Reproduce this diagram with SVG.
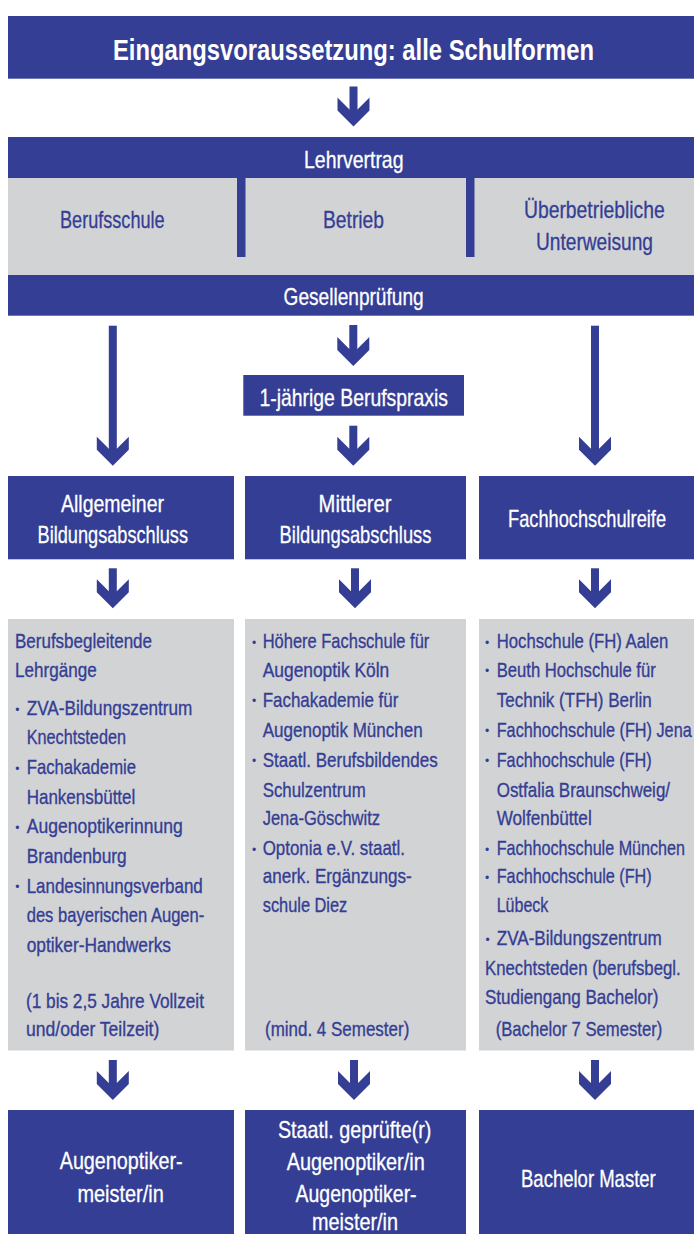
<svg xmlns="http://www.w3.org/2000/svg" width="694" height="1234" viewBox="0 0 694 1234">
<style>
.b{fill:#343e94}
.g{fill:#d2d3d5}
text{font-family:"Liberation Sans",Arial,sans-serif}
.w{fill:#ffffff;stroke:#ffffff;stroke-width:0.3px;font-size:24px}
.t{fill:#343e94;stroke:#343e94;stroke-width:0.3px;font-size:24px}
.l{fill:#343e94;stroke:#343e94;stroke-width:0.35px;font-size:21px}
.d{fill:#343e94;font-size:12px;text-anchor:middle}
.h{fill:#ffffff;font-size:30px;font-weight:bold}
</style>
<defs>
<path id="head" d="M-4,-17 L-16,-29 L-16,-16 L0,0 L16,-16 L16,-29 L4,-17 Z"/>
</defs>
<rect width="694" height="1234" fill="#ffffff"/>

<g id="connectors" fill="#343e94">
<g transform="translate(353.5,126.5)"><rect x="-4" y="-40" width="8" height="25"/><use href="#head"/></g>
<g transform="translate(353.3,366)"><rect x="-4" y="-41" width="8" height="26"/><use href="#head"/></g>
<g transform="translate(353.3,465.7)"><rect x="-4" y="-40" width="8" height="25"/><use href="#head"/></g>
<g transform="translate(112.8,465.7)"><rect x="-4" y="-140" width="8" height="125"/><use href="#head"/></g>
<g transform="translate(595,465.7)"><rect x="-4" y="-140" width="8" height="125"/><use href="#head"/></g>
<g transform="translate(112.8,608.3)"><rect x="-4" y="-40" width="8" height="25"/><use href="#head"/></g>
<g transform="translate(355,608.3)"><rect x="-4" y="-40" width="8" height="25"/><use href="#head"/></g>
<g transform="translate(595,608.3)"><rect x="-4" y="-40" width="8" height="25"/><use href="#head"/></g>
<g transform="translate(112.8,1100)"><rect x="-4" y="-40" width="8" height="25"/><use href="#head"/></g>
<g transform="translate(354,1100)"><rect x="-4" y="-40" width="8" height="25"/><use href="#head"/></g>
<g transform="translate(595,1100)"><rect x="-4" y="-40" width="8" height="25"/><use href="#head"/></g>
</g>

<g id="eingang">
<rect class="b" x="8" y="16" width="686" height="62.7"/>
<text class="h" transform="translate(113 60) scale(.75 1)" textLength="641.3" lengthAdjust="spacingAndGlyphs">Eingangsvoraussetzung: alle Schulformen</text>
</g>

<g id="lehrvertrag">
<rect class="b" x="8" y="137" width="686" height="41"/>
<text class="w" transform="translate(304 168) scale(.75 1)" textLength="132.7" lengthAdjust="spacingAndGlyphs">Lehrvertrag</text>
</g>

<g id="ausbildung">
<rect class="g" x="8" y="178" width="686" height="97"/>
<rect class="b" x="237" y="177" width="8.5" height="80"/>
<rect class="b" x="466" y="177" width="8.5" height="80"/>
<text class="t" transform="translate(60 228) scale(.75 1)" textLength="139.5" lengthAdjust="spacingAndGlyphs">Berufsschule</text>
<text class="t" transform="translate(323 228) scale(.75 1)" textLength="81.3" lengthAdjust="spacingAndGlyphs">Betrieb</text>
<text class="t" transform="translate(524 218.3) scale(.75 1)" textLength="187.5" lengthAdjust="spacingAndGlyphs">Überbetriebliche</text>
<text class="t" transform="translate(536 250) scale(.75 1)" textLength="156" lengthAdjust="spacingAndGlyphs">Unterweisung</text>
</g>

<g id="gesellenpruefung">
<rect class="b" x="8" y="275" width="686" height="40.7"/>
<text class="w" transform="translate(283.6 305) scale(.75 1)" textLength="186.7" lengthAdjust="spacingAndGlyphs">Gesellenprüfung</text>
</g>

<g id="berufspraxis">
<rect class="b" x="243.3" y="375" width="220.7" height="40.7"/>
<text class="w" transform="translate(259.5 406) scale(.75 1)" textLength="251.3" lengthAdjust="spacingAndGlyphs">1-jährige Berufspraxis</text>
</g>

<g id="allgemeiner">
<rect class="b" x="8" y="476" width="226" height="83.3"/>
<text class="w" transform="translate(61 511.7) scale(.75 1)" textLength="137.3" lengthAdjust="spacingAndGlyphs">Allgemeiner</text>
<text class="w" transform="translate(37.6 542.7) scale(.75 1)" textLength="200.5" lengthAdjust="spacingAndGlyphs">Bildungsabschluss</text>
</g>

<g id="mittlerer">
<rect class="b" x="245" y="476" width="221" height="83.3"/>
<text class="w" transform="translate(318.6 511.7) scale(.75 1)" textLength="97.3" lengthAdjust="spacingAndGlyphs">Mittlerer</text>
<text class="w" transform="translate(279.6 542.7) scale(.75 1)" textLength="202.4" lengthAdjust="spacingAndGlyphs">Bildungsabschluss</text>
</g>

<g id="fachhochschulreife">
<rect class="b" x="479" y="476" width="215" height="83.3"/>
<text class="w" transform="translate(508 527) scale(.75 1)" textLength="210.7" lengthAdjust="spacingAndGlyphs">Fachhochschulreife</text>
</g>

<g id="lehrgaenge">
<rect class="g" x="8" y="619" width="226" height="431.5"/>
<text class="l" transform="translate(15 648.3) scale(.75 1)" textLength="182.7" lengthAdjust="spacingAndGlyphs">Berufsbegleitende</text>
<text class="l" transform="translate(15 676.7) scale(.75 1)" textLength="108.9" lengthAdjust="spacingAndGlyphs">Lehrgänge</text>
<text class="d" x="17.3" y="713.5">•</text>
<text class="l" transform="translate(26.7 715) scale(.75 1)" textLength="220.8" lengthAdjust="spacingAndGlyphs">ZVA-Bildungszentrum</text>
<text class="l" transform="translate(26.7 744) scale(.75 1)" textLength="132.4" lengthAdjust="spacingAndGlyphs">Knechtsteden</text>
<text class="d" x="17.3" y="772.8">•</text>
<text class="l" transform="translate(26.7 774.3) scale(.75 1)" textLength="145.7" lengthAdjust="spacingAndGlyphs">Fachakademie</text>
<text class="l" transform="translate(26.7 804) scale(.75 1)" textLength="144.8" lengthAdjust="spacingAndGlyphs">Hankensbüttel</text>
<text class="d" x="17.3" y="831.8">•</text>
<text class="l" transform="translate(26.7 833.3) scale(.75 1)" textLength="208" lengthAdjust="spacingAndGlyphs">Augenoptikerinnung</text>
<text class="l" transform="translate(26.7 863.3) scale(.75 1)" textLength="133.3" lengthAdjust="spacingAndGlyphs">Brandenburg</text>
<text class="d" x="17.3" y="891.2">•</text>
<text class="l" transform="translate(26.7 892.7) scale(.75 1)" textLength="234.7" lengthAdjust="spacingAndGlyphs">Landesinnungsverband</text>
<text class="l" transform="translate(26.7 921.7) scale(.75 1)" textLength="236.8" lengthAdjust="spacingAndGlyphs">des bayerischen Augen-</text>
<text class="l" transform="translate(26.7 951.7) scale(.75 1)" textLength="192.4" lengthAdjust="spacingAndGlyphs">optiker-Handwerks</text>
<text class="l" transform="translate(26 1008.3) scale(.75 1)" textLength="237.3" lengthAdjust="spacingAndGlyphs">(1 bis 2,5 Jahre Vollzeit</text>
<text class="l" transform="translate(26 1035.7) scale(.75 1)" textLength="177.7" lengthAdjust="spacingAndGlyphs">und/oder Teilzeit)</text>
</g>

<g id="fachschulen">
<rect class="g" x="245" y="619" width="221" height="431.5"/>
<text class="d" x="254" y="646.8">•</text>
<text class="l" transform="translate(262.7 648.3) scale(.75 1)" textLength="222.1" lengthAdjust="spacingAndGlyphs">Höhere Fachschule für</text>
<text class="l" transform="translate(262.7 676.7) scale(.75 1)" textLength="168.8" lengthAdjust="spacingAndGlyphs">Augenoptik Köln</text>
<text class="d" x="254" y="705.2">•</text>
<text class="l" transform="translate(262.7 706.7) scale(.75 1)" textLength="180.8" lengthAdjust="spacingAndGlyphs">Fachakademie für</text>
<text class="l" transform="translate(262.7 736.7) scale(.75 1)" textLength="213.3" lengthAdjust="spacingAndGlyphs">Augenoptik München</text>
<text class="d" x="254" y="765.2">•</text>
<text class="l" transform="translate(262.7 766.7) scale(.75 1)" textLength="233.3" lengthAdjust="spacingAndGlyphs">Staatl. Berufsbildendes</text>
<text class="l" transform="translate(262.7 796.7) scale(.75 1)" textLength="137.3" lengthAdjust="spacingAndGlyphs">Schulzentrum</text>
<text class="l" transform="translate(262.7 825) scale(.75 1)" textLength="156.4" lengthAdjust="spacingAndGlyphs">Jena-Göschwitz</text>
<text class="d" x="254" y="853.5">•</text>
<text class="l" transform="translate(262.7 855) scale(.75 1)" textLength="189.7" lengthAdjust="spacingAndGlyphs">Optonia e.V. staatl.</text>
<text class="l" transform="translate(262.7 883.3) scale(.75 1)" textLength="198.7" lengthAdjust="spacingAndGlyphs">anerk. Ergänzungs-</text>
<text class="l" transform="translate(262.7 911.7) scale(.75 1)" textLength="112.8" lengthAdjust="spacingAndGlyphs">schule Diez</text>
<text class="l" transform="translate(265 1035.7) scale(.75 1)" textLength="192.4" lengthAdjust="spacingAndGlyphs">(mind. 4 Semester)</text>
</g>

<g id="hochschulen">
<rect class="g" x="479" y="619" width="215" height="431.5"/>
<text class="d" x="487" y="646.8">•</text>
<text class="l" transform="translate(496.7 648.3) scale(.75 1)" textLength="228.8" lengthAdjust="spacingAndGlyphs">Hochschule (FH) Aalen</text>
<text class="d" x="487" y="675.2">•</text>
<text class="l" transform="translate(496.7 676.7) scale(.75 1)" textLength="212" lengthAdjust="spacingAndGlyphs">Beuth Hochschule für</text>
<text class="l" transform="translate(496.7 706.7) scale(.75 1)" textLength="206.7" lengthAdjust="spacingAndGlyphs">Technik (TFH) Berlin</text>
<text class="d" x="487" y="735.2">•</text>
<text class="l" transform="translate(496.7 736.7) scale(.75 1)" textLength="260" lengthAdjust="spacingAndGlyphs">Fachhochschule (FH) Jena</text>
<text class="d" x="487" y="765.2">•</text>
<text class="l" transform="translate(496.7 766.7) scale(.75 1)" textLength="206.7" lengthAdjust="spacingAndGlyphs">Fachhochschule (FH)</text>
<text class="l" transform="translate(496.7 796.7) scale(.75 1)" textLength="231.1" lengthAdjust="spacingAndGlyphs">Ostfalia Braunschweig/</text>
<text class="l" transform="translate(496.7 825) scale(.75 1)" textLength="126.7" lengthAdjust="spacingAndGlyphs">Wolfenbüttel</text>
<text class="d" x="487" y="853.5">•</text>
<text class="l" transform="translate(496.7 855) scale(.75 1)" textLength="251.1" lengthAdjust="spacingAndGlyphs">Fachhochschule München</text>
<text class="d" x="487" y="881.8">•</text>
<text class="l" transform="translate(496.7 883.3) scale(.75 1)" textLength="206.7" lengthAdjust="spacingAndGlyphs">Fachhochschule (FH)</text>
<text class="l" transform="translate(496.7 911.7) scale(.75 1)" textLength="68.8" lengthAdjust="spacingAndGlyphs">Lübeck</text>
<text class="d" x="487.7" y="943.5">•</text>
<text class="l" transform="translate(496.7 945) scale(.75 1)" textLength="220" lengthAdjust="spacingAndGlyphs">ZVA-Bildungszentrum</text>
<text class="l" transform="translate(485 975) scale(.75 1)" textLength="260.9" lengthAdjust="spacingAndGlyphs">Knechtsteden (berufsbegl.</text>
<text class="l" transform="translate(485 1004.3) scale(.75 1)" textLength="231.1" lengthAdjust="spacingAndGlyphs">Studiengang Bachelor)</text>
<text class="l" transform="translate(495.7 1035.7) scale(.75 1)" textLength="222.1" lengthAdjust="spacingAndGlyphs">(Bachelor 7 Semester)</text>
</g>

<g id="meister">
<rect class="b" x="8" y="1110" width="226" height="124"/>
<text class="w" transform="translate(59.7 1169.3) scale(.75 1)" textLength="164" lengthAdjust="spacingAndGlyphs">Augenoptiker-</text>
<text class="w" transform="translate(77.4 1201.7) scale(.75 1)" textLength="115.1" lengthAdjust="spacingAndGlyphs">meister/in</text>
</g>

<g id="staatlich">
<rect class="b" x="245" y="1110" width="221" height="124"/>
<text class="w" transform="translate(277.9 1138.3) scale(.75 1)" textLength="204.7" lengthAdjust="spacingAndGlyphs">Staatl. geprüfte(r)</text>
<text class="w" transform="translate(286.7 1170) scale(.75 1)" textLength="184" lengthAdjust="spacingAndGlyphs">Augenoptiker/in</text>
<text class="w" transform="translate(295.6 1201.7) scale(.75 1)" textLength="161.3" lengthAdjust="spacingAndGlyphs">Augenoptiker-</text>
<text class="w" transform="translate(312 1230) scale(.75 1)" textLength="114.7" lengthAdjust="spacingAndGlyphs">meister/in</text>
</g>

<g id="bachelor">
<rect class="b" x="479" y="1110" width="215" height="124"/>
<text class="w" transform="translate(521 1186.7) scale(.75 1)" textLength="179.7" lengthAdjust="spacingAndGlyphs">Bachelor Master</text>
</g>
</svg>
